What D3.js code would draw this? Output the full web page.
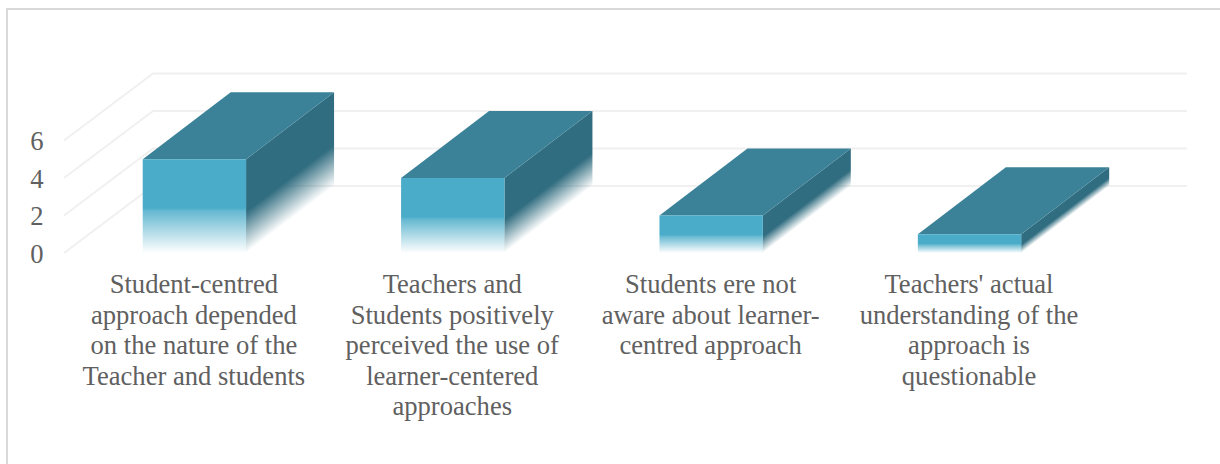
<!DOCTYPE html>
<html><head><meta charset="utf-8">
<script src="https://cdn.jsdelivr.net/npm/d3@7"></script>
<style>html,body{margin:0;padding:0;background:#fff}svg{display:block}text{font-family:"Liberation Serif",serif;fill:#606060}</style>
</head><body><svg id="c" width="1220" height="464"></svg>
<script>
const categories = [
  "Student-centred approach depended on the nature of the Teacher and students",
  "Teachers and Students positively perceived the use of learner-centered approaches",
  "Students ere not aware about learner-centred approach",
  "Teachers' actual understanding of the approach is questionable"
];
const categoryLines = [
  ["Student-centred","approach depended","on the nature of the","Teacher and students"],
  ["Teachers and","Students positively","perceived the use of","learner-centered","approaches"],
  ["Students ere not","aware about learner-","centred approach"],
  ["Teachers' actual","understanding of the","approach is","questionable"]
];
const values = [5, 4, 2, 1];
const yTicks = [0, 2, 4, 6];

const W = 1220, H = 464;
const dx = 88, dy = -67;
const svg = d3.select("#c");
const x = d3.scaleBand().domain(categories).range([65.2, 1098.7]).paddingInner(0.6).paddingOuter(0.3);
const y = d3.scaleLinear().domain([0, 6]).range([253, 140.5]);
const defs = svg.append("defs");
const grad = (id, c, stops) => {
  const g = defs.append("linearGradient").attr("id", id).attr("x1", 0).attr("y1", 0).attr("x2", 0).attr("y2", 1);
  stops.forEach(s => g.append("stop").attr("offset", s[0] + "%").attr("stop-color", c).attr("stop-opacity", s[1]));
};
grad("fFront", "#4aacc9", [[0, 1], [52, 1], [55, 0.85], [100, 0]]);
grad("fSide", "#316d80", [[0, 1], [56, 1], [100, 0]]);

// chart frame (top and left only are visible)
svg.append("path").attr("d", `M7 ${H}V9H${W}`).attr("fill", "none").attr("stroke", "#d9d9d9").attr("stroke-width", 2);

// gridlines
const x0 = 64, x1 = 153, xEnd = 1187;
svg.append("g").selectAll("path").data(yTicks).join("path")
  .attr("d", d => `M${x0} ${y(d)}L${x1} ${y(d) + dy}H${xEnd}`)
  .attr("fill", "none").attr("stroke", "#f0f0f0").attr("stroke-width", 2);

// y axis labels
svg.append("g").selectAll("text").data(yTicks).join("text")
  .attr("x", 37).attr("y", d => y(d) + 9.5)
  .attr("text-anchor", "middle").attr("font-size", 26.6).text(d => d);

// bars
const bars = svg.append("g").selectAll("g").data(categories.map((c, i) => ({c, v: values[i]}))).join("g");
const bw = x.bandwidth();
bars.append("rect")
  .attr("width", dx).attr("y", 0).attr("height", d => y(0) - y(d.v))
  .attr("transform", d => `translate(${x(d.c) + bw},${y(d.v)}) skewY(${Math.atan2(dy, dx) * 180 / Math.PI})`)
  .attr("fill", "url(#fSide)");
bars.append("path")
  .attr("d", d => { const l = x(d.c), r = l + bw, t = y(d.v);
    return `M${l} ${t}L${l + dx} ${t + dy}H${r + dx}L${r} ${t}Z`; })
  .attr("fill", "#3b8299");
bars.append("rect")
  .attr("x", d => x(d.c)).attr("y", d => y(d.v))
  .attr("width", bw).attr("height", d => y(0) - y(d.v))
  .attr("fill", "url(#fFront)");

// category labels
svg.append("g").selectAll("text").data(categories).join("text")
  .attr("text-anchor", "middle").attr("font-size", 26.6)
  .each(function(c, i) {
    d3.select(this).selectAll("tspan").data(categoryLines[i]).join("tspan")
      .attr("x", x(c) + bw / 2 - 0.5).attr("y", (l, j) => 293 + j * 30.6).text(l => l);
  });
</script></body></html>
